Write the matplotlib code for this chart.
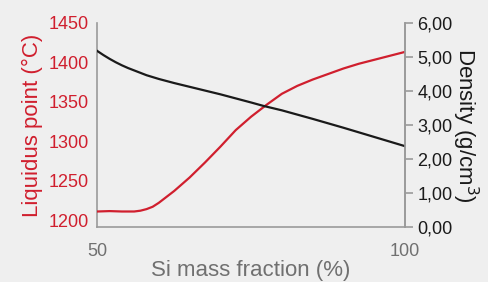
import matplotlib.pyplot as plt
from matplotlib.ticker import FuncFormatter

plt.rcParams['font.family'] = ['Liberation Sans', 'DejaVu Sans']

# Si mass fraction (%) vs liquidus point (°C)
si_liq = [50, 52, 54, 56, 57, 58, 59, 60, 62.5, 65, 67.5, 70, 72.5, 75, 77.5, 80, 82.5, 85, 87.5, 90, 92.5, 95, 97.5, 100]
liquidus = [1211, 1211.5, 1211, 1211, 1212, 1214, 1217, 1222, 1237, 1254, 1273, 1293, 1314, 1331, 1346, 1360, 1370, 1378, 1385, 1392, 1398, 1403, 1408, 1413]

# Si mass fraction (%) vs density (g/cm3)
si_den = [50, 51, 52, 53, 54, 55, 56, 58, 60, 62.5, 65, 70, 75, 77, 80, 85, 90, 95, 100]
density = [5.17, 5.05, 4.94, 4.84, 4.75, 4.67, 4.60, 4.46, 4.35, 4.23, 4.12, 3.90, 3.66, 3.56, 3.43, 3.18, 2.92, 2.65, 2.38]

red = '#d01f2e'
grey = '#9a9a9a'
bg = '#efefef'

fig = plt.figure(figsize=(4.89, 2.82), dpi=100, facecolor=bg)
ax = fig.add_axes([0.199, 0.194, 0.629, 0.7255], facecolor=bg)
ax2 = ax.twinx()

ax.plot(si_liq, liquidus, color=red, lw=1.6, zorder=3)
ax2.plot(si_den, density, color='#1a1a1a', lw=1.6)

ax.set_xlim(50, 100)
ax.set_ylim(1191, 1450)
ax2.set_ylim(0, 6)

ax.set_xticks([50, 100])
ax.set_yticks([1200, 1250, 1300, 1350, 1400, 1450])
ax2.set_yticks(range(7))
ax2.yaxis.set_major_formatter(FuncFormatter(lambda v, p: ('%.2f' % v).replace('.', ',')))

for a in (ax, ax2):
    for s in a.spines.values():
        s.set_color(grey)
        s.set_linewidth(1.2)
    a.spines['top'].set_visible(False)
ax2.spines['left'].set_visible(False)
ax2.spines['bottom'].set_visible(False)

ax.tick_params(axis='y', length=0, pad=6, labelsize=13, labelcolor=red)
ax.tick_params(axis='x', length=0, pad=11, labelsize=13, labelcolor='#707070')
ax2.tick_params(axis='y', length=6, width=1.2, color=grey, pad=3, labelsize=13, labelcolor='#1a1a1a')

ax.set_ylabel('Liquidus point (°C)', color=red, fontsize=16, labelpad=4)
ax2.set_ylabel('Density (g/cm$^3$)', color='#1a1a1a', fontsize=16, rotation=270, labelpad=20)
ax.set_xlabel('Si mass fraction (%)', color='#707070', fontsize=16, labelpad=0)

fig.savefig('out.png', dpi=100, facecolor=bg)
